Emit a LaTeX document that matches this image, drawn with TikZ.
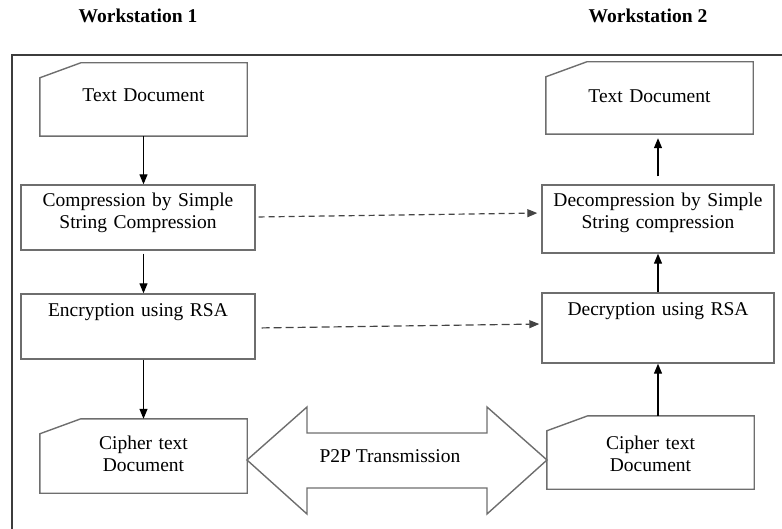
\documentclass[tikz,border=0pt]{standalone}
\usepackage{fontspec}
\setmainfont{Liberation Serif}
\usetikzlibrary{arrows.meta,positioning}
\definecolor{boxgray}{HTML}{6E6E6E}
\definecolor{framegray}{HTML}{3C3C3C}
\definecolor{dashgray}{HTML}{444444}

% outline of a document box: rectangle with its top left corner cut off
\newcommand{\docframe}[1]{%
  \draw[boxline] ([yshift=-15pt]#1.north west) -- ([xshift=41pt]#1.north west)
    -- (#1.north east) -- (#1.south east) -- (#1.south west) -- cycle;}

\begin{document}
\begin{tikzpicture}[x=1pt, y=-1pt, >={Triangle[length=10pt,width=8pt]},
  every node/.style={font=\fontsize{19.5}{22}\selectfont},
  boxline/.style={draw=boxgray, line width=1.4pt},
  box/.style={boxline, align=center, inner xsep=3pt, inner ysep=0pt},
  doc/.style={align=center, text width=201pt, inner xsep=3pt, inner ysep=0pt},
  head/.style={font=\fontsize{19.5}{22}\selectfont\bfseries},
  flow/.style={->, line width=1.2pt},
  link/.style={->, line width=1.2pt, dashgray, dash pattern=on 6pt off 4pt}]
  \useasboundingbox (0,0) rectangle (782,529);
  \draw[framegray, line width=1.2pt] (782,55) -- (12,55) -- (12,529);

  \node[head] (ws1) at (138,16) {Workstation 1};
  \node[head] (ws2) at (648,16) {Workstation 2};

  % sender
  \node[doc, text height=38.5pt, text depth=34.5pt] (plain1) at (143.5,99.5) {Text Document};
  \node[box, text width=228pt, text height=21.5pt, text depth=43.5pt] (comp) at (138,217.5) {Compression by Simple\\String Compression};
  \node[box, text width=228pt, text height=22.5pt, text depth=42.5pt] (enc) at (138,326.5) {Encryption using RSA};
  \node[doc, text height=30.5pt, text depth=43.5pt] (cipher1) at (143.5,456) {Cipher text\\Document};
  \docframe{plain1}
  \docframe{cipher1}

  % receiver
  \node[doc, text height=41pt, text depth=31pt] (plain2) at (649.5,98) {Text Document};
  \node[box, text width=226pt, text height=21.5pt, text depth=46.5pt] (decomp) at (658,219) {Decompression by Simple\\String compression};
  \node[box, text width=226pt, text height=23pt, text depth=47pt] (dec) at (658,328) {Decryption using RSA};
  \node[doc, text height=33.5pt, text depth=39.5pt] (cipher2) at (650.5,452.5) {Cipher text\\Document};
  \docframe{plain2}
  \docframe{cipher2}

  \draw[flow] (plain1.south) -- (plain1.south |- comp.north);
  \draw[flow, shorten <=3pt] (comp.south -| plain1.south) -- (enc.north -| plain1.south);
  \draw[flow] (enc.south -| plain1.south) -- (plain1.south |- cipher1.north);

  \draw[flow] (cipher2.north -| dec.south) -- (dec.south);
  \draw[flow] (dec.north) -- (decomp.south);
  \draw[flow, shorten <=8pt, shorten >=4pt] (decomp.north) -- (decomp.north |- plain2.south);

  \draw[link, shorten <=3pt, shorten >=4pt] ([yshift=0.5pt]comp.east) -- ([yshift=6pt]decomp.west);
  \draw[link, dash pattern=on 8pt off 4pt, shorten <=6pt, shorten >=2pt] ([yshift=-1.5pt]enc.east) -- ([yshift=4pt]dec.west);

  % transfer between the two stations
  \draw[boxline, fill=white] (247,460) -- (307,407) -- (307,433) -- (487,433) -- (487,407)
    -- (547,460) -- (487,514) -- (487,488) -- (307,488) -- (307,514) -- cycle;
  \node (p2p) at (390,456) {P2P Transmission};
\end{tikzpicture}
\end{document}
